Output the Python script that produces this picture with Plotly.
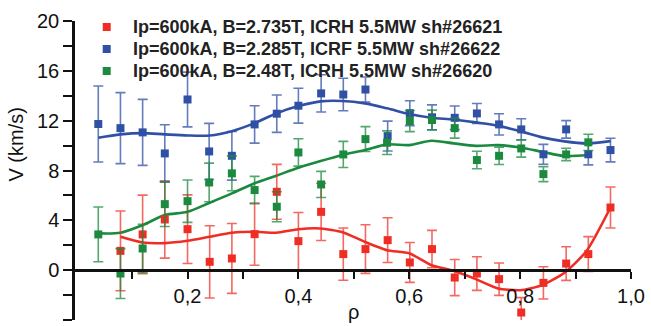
import plotly.graph_objects as go

# ---- data ----
red_rho = [0.079, 0.119, 0.159, 0.200, 0.240, 0.280, 0.321, 0.361, 0.400, 0.441, 0.481,
           0.521, 0.561, 0.601, 0.641, 0.682, 0.722, 0.762, 0.802, 0.842, 0.883, 0.923, 0.963]
red_v = [1.55, 2.87, 4.07, 3.29, 0.67, 0.94, 2.89, 6.29, 2.33, 4.68, 1.29,
         1.69, 2.41, 0.62, 1.69, -0.59, -0.27, -0.72, -3.40, -1.02, 0.53, 1.29, 5.03]
red_err = [3.2, 3.15, 3.1, 2.75, 2.9, 2.8, 2.5, 2.2, 2.3, 2.3, 2.1,
           1.95, 1.8, 1.6, 1.5, 1.45, 1.35, 1.3, 1.2, 1.3, 1.35, 1.4, 1.65]

blue_rho = [0.039, 0.079, 0.119, 0.159, 0.200, 0.239, 0.280, 0.321, 0.361, 0.400, 0.441, 0.481,
            0.521, 0.561, 0.601, 0.641, 0.682, 0.722, 0.762, 0.802, 0.842, 0.883, 0.923, 0.963]
blue_v = [11.73, 11.40, 11.06, 9.37, 13.70, 9.53, 9.18, 11.70, 12.56, 13.20, 14.19, 14.10,
          14.50, 10.76, 12.60, 12.27, 12.23, 12.58, 11.70, 11.30, 9.30, 11.30, 9.30, 9.64]
blue_err = [3.05, 2.85, 2.65, 2.3, 2.2, 2.25, 1.95, 1.5, 1.5, 1.4, 1.5, 1.3,
            1.0, 1.2, 1.0, 1.0, 0.95, 0.8, 0.85, 0.85, 0.8, 0.7, 0.85, 0.95]

green_rho = [0.039, 0.079, 0.119, 0.159, 0.200, 0.239, 0.280, 0.321, 0.361, 0.400, 0.441, 0.481,
             0.521, 0.560, 0.601, 0.641, 0.682, 0.722, 0.762, 0.802, 0.842, 0.883, 0.923]
green_v = [2.87, -0.27, 1.74, 5.30, 5.54, 7.04, 7.77, 6.43, 5.09, 9.45, 6.88, 9.29,
           10.52, 10.23, 11.97, 12.05, 11.40, 8.84, 9.18, 9.77, 7.71, 9.29, 10.26]
green_err = [2.2, 2.0, 1.95, 1.8, 1.7, 1.55, 1.4, 1.1, 1.2, 1.1, 1.05, 1.05,
             1.0, 0.95, 0.85, 0.8, 0.8, 0.7, 0.7, 0.7, 0.6, 0.5, 0.65]

red_fit_rho = [0.079, 0.119, 0.159, 0.20, 0.24, 0.28, 0.32, 0.36, 0.40, 0.44, 0.48,
               0.52, 0.56, 0.60, 0.64, 0.68, 0.72, 0.76, 0.80, 0.84, 0.88, 0.92, 0.963]
red_fit_v = [2.68, 2.22, 2.17, 2.36, 2.68, 3.00, 3.08, 3.00, 3.29, 3.35, 3.05,
             2.27, 1.60, 1.35, 0.40, -0.05, -0.72, -1.47, -1.61, -1.20, -0.21, 1.55, 5.03]

blue_fit_rho = [0.039, 0.079, 0.119, 0.159, 0.20, 0.24, 0.28, 0.32, 0.36, 0.40, 0.44, 0.48,
                0.52, 0.56, 0.60, 0.64, 0.68, 0.72, 0.76, 0.80, 0.84, 0.88, 0.92, 0.963]
blue_fit_v = [10.63, 10.90, 11.00, 10.90, 10.81, 10.81, 11.16, 11.78, 12.58, 13.17, 13.55, 13.58,
              13.39, 12.99, 12.53, 12.23, 12.10, 11.86, 11.59, 11.16, 10.66, 10.34, 10.18, 10.36]

green_fit_rho = [0.039, 0.079, 0.119, 0.159, 0.20, 0.24, 0.28, 0.32, 0.36, 0.40, 0.44, 0.48,
                 0.52, 0.56, 0.60, 0.64, 0.68, 0.72, 0.76, 0.80, 0.84, 0.88, 0.923]
green_fit_v = [2.95, 3.00, 3.61, 4.42, 4.68, 5.41, 6.16, 6.96, 7.58, 8.22, 8.76, 9.25,
               9.64, 10.10, 10.04, 10.39, 10.18, 9.98, 10.04, 9.85, 9.50, 9.16, 9.24]

labels = ["Ip=600kA, B=2.735T, ICRH 5.5MW sh#26621",
          "Ip=600kA, B=2.285T, ICRF 5.5MW sh#26622",
          "Ip=600kA, B=2.48T, ICRH 5.5MW sh#26620"]

x_tickvals = [0.2, 0.4, 0.6, 0.8, 1.0]
x_ticktext = ["0,2", "0,4", "0,6", "0,8", "1,0"]
y_tickvals = [-4, 0, 4, 8, 12, 16, 20]
y_ticktext = ["-4", "0", "4", "8", "12", "16", "20"]

RED, BLUE, GREEN = "#ee2e24", "#3050a5", "#1b8a3e"
RED_E, BLUE_E, GREEN_E = "rgba(238,46,36,0.72)", "rgba(48,80,165,0.75)", "rgba(27,138,62,0.75)"

W, H = 651, 326
ML, MR, MT, MB = 75, 15, 21, 6
PW, PH = W - ML - MR, H - MT - MB


def px(x):
    return (x - ML) / PW


def py(y):
    return 1 - (y - MT) / PH


fig = go.Figure()

series = [
    (red_rho, red_v, red_err, red_fit_rho, red_fit_v, RED, RED_E, 0.6),
    (blue_rho, blue_v, blue_err, blue_fit_rho, blue_fit_v, BLUE, BLUE_E, 0.8),
    (green_rho, green_v, green_err, green_fit_rho, green_fit_v, GREEN, GREEN_E, 0.8),
]

for rho, v, err, frho, fv, col, ecol, sm in series:
    fig.add_trace(go.Scatter(x=frho, y=fv, mode="lines",
                             line=dict(color=col, width=2.6, shape="spline", smoothing=sm),
                             showlegend=False, hoverinfo="skip"))
for rho, v, err, frho, fv, col, ecol, sm in series:
    fig.add_trace(go.Scatter(x=rho, y=v, mode="markers",
                             marker=dict(symbol="square", size=8, color=col),
                             error_y=dict(type="data", array=err, visible=True, color=ecol, thickness=1.6, width=5),
                             showlegend=False))

# legend built from annotations + swatches
annotations = []
shapes = []
leg_rows = [27, 49, 71]
for lab, col, yy in zip(labels, [RED, BLUE, GREEN], leg_rows):
    annotations.append(dict(text=lab, x=px(131), y=py(yy), xref="paper", yref="paper",
                            xanchor="left", yanchor="middle", showarrow=False,
                            font=dict(size=18, color="#222", family="Liberation Sans, Arial, sans-serif",
                                      weight="bold")))
    shapes.append(dict(type="rect", xref="paper", yref="paper", xsizemode="pixel", ysizemode="pixel",
                       xanchor=px(107), yanchor=py(yy), x0=-4, x1=4, y0=-4, y1=4,
                       fillcolor=col, line=dict(width=0), layer="above"))

annotations.append(dict(text="ρ", x=px(356), y=0, xref="paper", yref="paper", xanchor="center",
                        yanchor="bottom", yshift=-5, showarrow=False, font=dict(size=20)))
annotations.append(dict(text="V (km/s)", x=px(15), y=py(145), xref="paper", yref="paper",
                        xanchor="center", yanchor="middle", showarrow=False, textangle=-90,
                        font=dict(size=20)))

fig.update_layout(
    width=W, height=H,
    margin=dict(l=ML, r=MR, t=MT, b=MB),
    paper_bgcolor="white", plot_bgcolor="white",
    showlegend=False,
    font=dict(family="Liberation Sans, Arial, sans-serif", color="#111"),
    xaxis=dict(range=[-0.003, 1.0], showgrid=False, zeroline=False, showline=True, linecolor="#111", linewidth=2.5,
               anchor="free", position=1/6, ticks="outside", ticklen=7, tickwidth=2, tickcolor="#111",
               tickvals=x_tickvals, ticktext=x_ticktext, tickfont=dict(size=20),
               minor=dict(tickvals=[0.1, 0.3, 0.5, 0.7, 0.9], ticks="outside", ticklen=7, tickwidth=2,
                          tickcolor="#111")),
    yaxis=dict(range=[-4, 20], showgrid=False, zeroline=False, showline=True, linecolor="#111", linewidth=2.5,
               ticks="outside", ticklen=9, tickwidth=2, tickcolor="#111",
               tickvals=y_tickvals, ticktext=y_ticktext, tickfont=dict(size=20),
               minor=dict(dtick=2, ticks="outside", ticklen=9, tickwidth=2, tickcolor="#111")),
    annotations=annotations,
    shapes=shapes,
)

fig.write_html("out.html")
